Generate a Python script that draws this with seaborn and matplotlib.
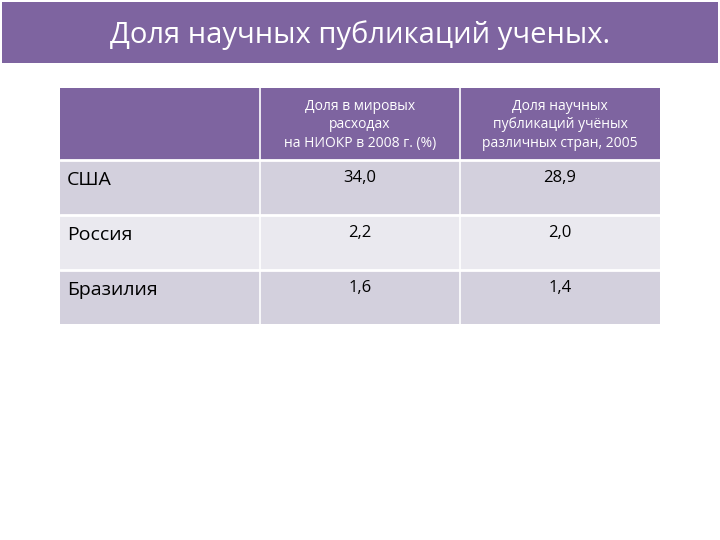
import matplotlib.pyplot as plt
import seaborn as sns
from matplotlib.patches import Rectangle

sns.set_theme(style="white")
plt.rcParams['font.family'] = ['Open Sans', 'DejaVu Sans']

title = "Доля научных публикаций ученых."
columns = ["Доля в мировых\nрасходах\nна НИОКР в 2008 г. (%)",
           "Доля научных\nпубликаций учёных\nразличных стран, 2005"]
countries = ["США", "Россия", "Бразилия"]
rd_share = ["34,0", "2,2", "1,6"]
pub_share = ["28,9", "2,0", "1,4"]

purple = "#7E64A0"
row_colors = ["#D3D0DD", "#EAE9EF", "#D3D0DD"]

fig = plt.figure(figsize=(7.2, 5.4), dpi=100)
ax = fig.add_axes([0, 0, 1, 1])
ax.set_xlim(0, 720)
ax.set_ylim(540, 0)
ax.axis("off")

# title band
ax.add_patch(Rectangle((2, 2), 716, 61, color=purple, lw=0))
ax.text(360, 35, title, color="white", fontsize=21, ha="center", va="center")

col_x = [60, 260, 460, 660]
ax.add_patch(Rectangle((60, 88), 600, 72, color=purple, lw=0))
for i, lab in enumerate(columns):
    cx = (col_x[i + 1] + col_x[i + 2]) / 2
    ax.text(cx, 125, lab, color="white", fontsize=10, ha="center", va="center",
            linespacing=1.35)

row_y = [160, 215, 270, 324]
for r, name in enumerate(countries):
    y0, y1 = row_y[r], row_y[r + 1]
    ax.add_patch(Rectangle((60, y0), 600, y1 - y0, color=row_colors[r], lw=0))
    ax.text(67, y0 + 20, name, fontsize=14, ha="left", va="center", color="black")
    ax.text(360, y0 + 18, rd_share[r], fontsize=12, ha="center", va="center", color="black")
    ax.text(560, y0 + 18, pub_share[r], fontsize=12, ha="center", va="center", color="black")

# white grid lines
for x in col_x[1:-1]:
    ax.plot([x, x], [88, 324], color="white", lw=1.2)
for y in row_y[:-1]:
    ax.plot([60, 660], [y, y], color="white", lw=2)

fig.savefig("out.png", dpi=100)
